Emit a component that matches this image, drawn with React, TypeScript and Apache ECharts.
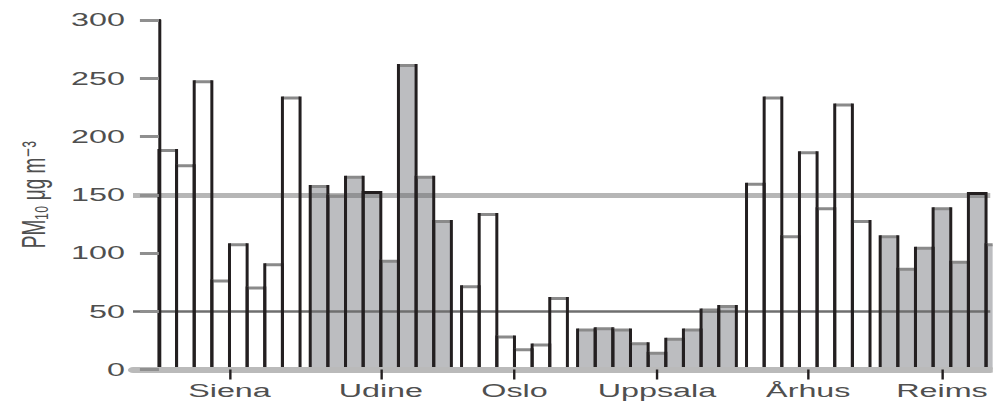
import React, { useEffect, useRef } from "react";
import * as echarts from "echarts";

// PM10 daily means per monitoring site, grouped by city
const CITIES = ["Siena", "Udine", "Oslo", "Uppsala", "Århus", "Reims"];
const SIENA = [188, 175, 247, 76, 107, 70, 90, 233];
const UDINE = [157, 149, 165, 152, 93, 261, 165, 127];
const OSLO = [71, 133, 28, 17, 21, 61];
const UPPSALA = [34, 35, 34, 22, 14, 26, 34, 51, 54];
const ARHUS = [159, 233, 114, 186, 138, 227, 127];
const REIMS = [114, 86, 104, 138, 92, 151, 107];
const SITE_VALUES = [SIENA, UDINE, OSLO, UPPSALA, ARHUS, REIMS];

// y axis ticks and the two reference levels drawn across the plot
const Y_TICKS = [0, 50, 100, 150, 200, 250, 300];
const LIMIT_LEVELS = [50, 150];

// sites drawn with a black frame on top
const FRAMED_SITES = [
  { city: "Udine", site: 3 },
  { city: "Reims", site: 5 },
];

// layout
const WIDTH = 993;
const HEIGHT = 404;
const SX = 1.7; // horizontal stretch of the whole figure
const INNER_W = WIDTH / SX;
const GROUP_GAP = 0.576; // gap between cities, in bar widths
const FONT = "'Liberation Sans', 'DejaVu Sans', Arial, sans-serif";
const TEXT_COLOR = "#4f4f4f";
const INK = "#231f20";

type Item = [number, number, number, number, number];

function buildItems() {
  const items: Item[] = [];
  const centers: number[] = [];
  let cursor = 0;
  SITE_VALUES.forEach((values, ci) => {
    values.forEach((v, j) => {
      const framed = FRAMED_SITES.some(
        (f) => f.city === CITIES[ci] && f.site === j
      )
        ? 1
        : 0;
      items.push([cursor + j, cursor + j + 1, v, ci, framed]);
    });
    centers.push(cursor + values.length / 2);
    cursor += values.length + GROUP_GAP;
  });
  return { items, centers, end: cursor - GROUP_GAP };
}

export default function App() {
  const ref = useRef<HTMLDivElement>(null);

  useEffect(() => {
    if (!ref.current) return;
    const chart = echarts.init(ref.current, undefined, { renderer: "svg" });
    const { items, centers } = buildItems();

    const barPx = 17.7; // screen width of one bar
    const gridLeftPx = 133;
    const firstBarPx = 159;
    const axisLinePx = 152;
    const xMin = -(firstBarPx - gridLeftPx) / barPx;
    const xMax = (WIDTH - firstBarPx) / barPx;

    const labelFor = (value: number) => {
      const i = centers.findIndex((c) => Math.abs(c - value) < 1e-6);
      return i >= 0 ? CITIES[i] : "";
    };

    const sideWidth = 3 / SX;

    chart.setOption({
      animation: false,
      grid: {
        left: gridLeftPx / SX,
        right: 0,
        top: 20,
        bottom: 34.5,
      },
      xAxis: {
        type: "value",
        min: xMin,
        max: xMax,
        z: 20,
        axisLine: {
          show: true,
          onZero: false,
          lineStyle: { color: "#bababa", width: 6 },
        },
        axisTick: {
          show: true,
          customValues: centers,
          length: 10,
          lineStyle: { color: INK, width: 2.4 / SX },
        },
        axisLabel: {
          show: true,
          customValues: centers,
          formatter: (v: number) => labelFor(v),
          margin: 11.5,
          fontSize: 19,
          fontFamily: FONT,
          color: TEXT_COLOR,
        },
        splitLine: { show: false },
      },
      yAxis: {
        type: "value",
        min: Y_TICKS[0],
        max: Y_TICKS[Y_TICKS.length - 1],
        interval: Y_TICKS[1] - Y_TICKS[0],
        offset: -(axisLinePx - gridLeftPx) / SX,
        z: 20,
        name: "PM₁₀ μg m⁻³",
        nameLocation: "middle",
        nameGap: 60,
        nameTextStyle: { fontSize: 19, fontFamily: FONT, color: TEXT_COLOR },
        axisLine: { show: true, lineStyle: { color: INK, width: sideWidth } },
        axisTick: {
          show: true,
          length: (axisLinePx - gridLeftPx) / SX,
          lineStyle: { color: "#8f8f8f", width: 3 },
        },
        axisLabel: {
          margin: (axisLinePx - 125) / SX,
          fontSize: 19,
          fontFamily: FONT,
          color: TEXT_COLOR,
        },
        splitLine: { show: false },
      },
      series: [
        {
          type: "custom",
          name: "fill",
          z: 2,
          clip: true,
          encode: { x: [0, 1], y: 2 },
          data: items,
          renderItem: (_p: any, api: any) => {
            const tl = api.coord([api.value(0), api.value(2)]);
            const br = api.coord([api.value(1), 0]);
            return {
              type: "rect",
              shape: {
                x: tl[0],
                y: tl[1],
                width: br[0] - tl[0],
                height: br[1] - tl[1],
              },
              style: { fill: api.value(3) % 2 ? "#bcbdc0" : "#ffffff" },
            };
          },
          markLine: {
            silent: true,
            symbol: "none",
            z: 3,
            label: { show: false },
            data: [
              {
                yAxis: LIMIT_LEVELS[1],
                lineStyle: { color: "rgba(100,100,100,0.47)", width: 5, type: "solid" },
              },
              {
                yAxis: LIMIT_LEVELS[0],
                lineStyle: { color: "#6f6f6f", width: 2.5, type: "solid" },
              },
            ],
          },
        },
        {
          type: "custom",
          name: "outline",
          z: 10,
          clip: true,
          encode: { x: [0, 1], y: 2 },
          data: items,
          renderItem: (_p: any, api: any) => {
            const tl = api.coord([api.value(0), api.value(2)]);
            const br = api.coord([api.value(1), 0]);
            const framed = api.value(4) === 1;
            return {
              type: "group",
              children: [
                {
                  type: "line",
                  shape: { x1: tl[0], y1: tl[1], x2: br[0], y2: tl[1] },
                  style: { stroke: framed ? INK : "#8a8a8a", lineWidth: 3 },
                },
                {
                  type: "line",
                  shape: { x1: tl[0], y1: br[1], x2: tl[0], y2: tl[1] - 1.5 },
                  style: { stroke: INK, lineWidth: sideWidth },
                },
                {
                  type: "line",
                  shape: { x1: br[0], y1: br[1], x2: br[0], y2: tl[1] - 1.5 },
                  style: { stroke: INK, lineWidth: sideWidth },
                },
              ],
            };
          },
        },
      ],
    });

    return () => chart.dispose();
  }, []);

  return (
    <div
      style={{
        position: "fixed",
        left: 0,
        top: 0,
        width: WIDTH,
        height: HEIGHT,
        overflow: "hidden",
        background: "#ffffff",
      }}
    >
      <div
        ref={ref}
        style={{
          width: INNER_W,
          height: HEIGHT,
          transform: `scaleX(${SX})`,
          transformOrigin: "0 0",
        }}
      />
    </div>
  );
}
